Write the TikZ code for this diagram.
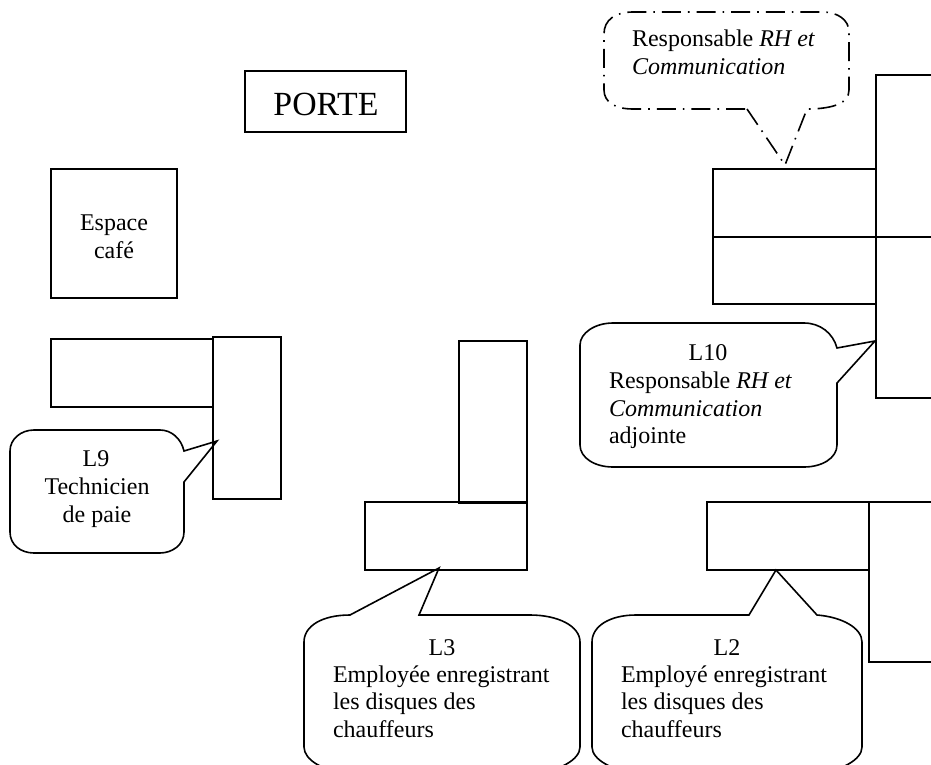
\documentclass[tikz,border=0pt]{standalone}
\usepackage{fontspec}
\setmainfont{Liberation Serif}
\tikzset{
  ln/.style={draw=black,line width=1.6pt,line join=miter},
  txt/.style={inner sep=0pt,outer sep=0pt,anchor=base west,font=\fontsize{24}{27}\selectfont},
  ctr/.style={inner sep=0pt,outer sep=0pt,anchor=base,font=\fontsize{24}{27}\selectfont},
  dd/.style={ln,dash pattern=on 19pt off 7pt on 1.6pt off 7pt}
}
\begin{document}
\begin{tikzpicture}[x=1pt,y=-1pt]
\useasboundingbox[fill=white] (0,0) rectangle (931,765);
\clip (0,0) rectangle (931,765);
% plain desks
\draw[ln] (245,71) rectangle (406,132);
\draw[ln] (51,169) rectangle (177,298);
\draw[ln] (213,339) -- (51,339) -- (51,407) -- (213,407);
\draw[ln] (213,337) rectangle (281,499);
\draw[ln] (459,502) -- (459,341) -- (527,341) -- (527,503) -- (459,503) -- cycle;
\draw[ln] (365,502) rectangle (527,570);
\draw[ln] (707,502) rectangle (869,570);
\draw[ln] (931,502) -- (869,502) -- (869,662) -- (931,662);
\draw[ln] (713,169) rectangle (876,237);
\draw[ln] (713,237) rectangle (876,304);
\draw[ln] (931,75) -- (876,75) -- (876,398) -- (931,398);
\draw[ln] (876,237) -- (931,237);
% callouts
\coordinate (tipTop) at (785,165);
\coordinate (tipTen) at (875,341);
\coordinate (tipNine) at (217,441);
\coordinate (tipThree) at (439,568);
\coordinate (tipTwo) at (776,570);
\draw[dd] (747,109) -- (tipTop) -- (807,109) -- (812,109)
  .. controls (832,108) and (849,104) .. (849,90) -- (849,32)
  .. controls (849,20) and (838,12) .. (822,12) -- (633,12)
  .. controls (615,12) and (604,20) .. (604,34) -- (604,90)
  .. controls (604,102) and (615,109) .. (633,109) -- cycle;
\draw[ln] (837,348) -- (tipTen) -- (837,383) -- (837,445)
  .. controls (837,458) and (822,467) .. (804,467) -- (613,467)
  .. controls (595,467) and (580,458) .. (580,445) -- (580,345)
  .. controls (580,333) and (595,323) .. (613,323) -- (804,323)
  .. controls (820,323) and (833,333) .. (837,348) -- cycle;
\draw[ln] (184,451) -- (tipNine) -- (184,482) -- (184,532)
  .. controls (184,545) and (172,553) .. (160,553) -- (34,553)
  .. controls (21,553) and (10,545) .. (10,532) -- (10,451)
  .. controls (10,439) and (21,430) .. (34,430) -- (160,430)
  .. controls (171,430) and (181,438) .. (184,451) -- cycle;
\draw[ln] (350,615) -- (tipThree) -- (419,615) -- (530,615)
  .. controls (558,615) and (580,626) .. (580,642) -- (580,747)
  .. controls (580,760) and (558,771) .. (540,771) -- (342,771)
  .. controls (324,771) and (304,760) .. (304,747) -- (304,642)
  .. controls (304,626) and (322,615) .. (350,615) -- cycle;
\draw[ln] (749,615) -- (tipTwo) -- (817,615)
  .. controls (842,617) and (862,628) .. (862,642) -- (862,747)
  .. controls (862,760) and (840,771) .. (822,771) -- (632,771)
  .. controls (614,771) and (592,760) .. (592,747) -- (592,642)
  .. controls (592,626) and (610,615) .. (636,615) -- cycle;
% texts
\node[ctr,font=\fontsize{33.8}{38}\selectfont] (porte) at (326,116) {PORTE};
\node[ctr] (esp) at (114,230) {Espace};
\node[ctr] (caf) at (114,258) {café};
\node[txt] (t1) at (632,47) {Responsable \textit{RH et}};
\node[txt] (t2) at (632,75) {\textit{Communication}};
\node[ctr] (l10) at (708,360) {L10};
\node[txt] (t3) at (609,388) {Responsable \textit{RH et}};
\node[txt] (t4) at (609,416) {\textit{Communication}};
\node[txt] (t5) at (609,443) {adjointe};
\node[ctr] (l9) at (96,466) {L9};
\node[ctr] (t6) at (97,494) {Technicien};
\node[ctr] (t7) at (97,522) {de paie};
\node[ctr] (l3) at (442,655) {L3};
\node[txt] (t8) at (333,682) {Employée enregistrant};
\node[txt] (t9) at (333,709) {les disques des};
\node[txt] (t10) at (333,737) {chauffeurs};
\node[ctr] (l2) at (727,655) {L2};
\node[txt] (t11) at (621,682) {Employé enregistrant};
\node[txt] (t12) at (621,709) {les disques des};
\node[txt] (t13) at (621,737) {chauffeurs};
\end{tikzpicture}
\end{document}
